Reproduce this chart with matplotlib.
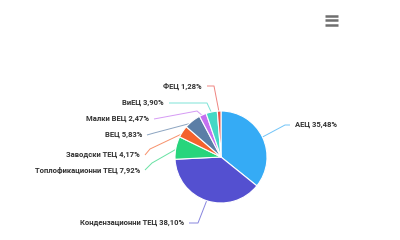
import numpy as np
import matplotlib
matplotlib.use('Agg')
import matplotlib.pyplot as plt

# data
names = ['АЕЦ', 'Кондензационни ТЕЦ', 'Топлофикационни ТЕЦ', 'Заводски ТЕЦ',
         'ВЕЦ', 'Малки ВЕЦ', 'ВиЕЦ', 'ФЕЦ']
shares = [35.48, 38.10, 7.92, 4.17, 5.83, 2.47, 3.90, 1.28]
colors = ['#35abf5', '#5450d0', '#27d57c', '#f4622c',
          '#5b7ea6', '#c470f0', '#44d8c5', '#e8504a']

# label layout in pixel coords (x, y, align) and elbow of leader line
label_pos = [(295, 125, 'left'), (184, 223, 'right'), (140, 170, 'right'),
             (140, 155, 'right'), (142, 135, 'right'), (149, 119, 'right'),
             (164, 103, 'right'), (202, 86, 'right')]
elbows = [(285, 125), (198, 223), (152, 163), (150, 149), (154, 133),
          (197, 111), (207, 103), (214, 86)]

H = 240
cx, cy, r = 221, 157, 46


def px(x, y):
    return x, H - y


fig = plt.figure(figsize=(4, 2.4), dpi=100)
ax = fig.add_axes([0, 0, 1, 1])

wedges, _ = ax.pie(shares, colors=colors, startangle=90, counterclock=False,
                   center=px(cx, cy), radius=r,
                   wedgeprops=dict(edgecolor='white', linewidth=0.8))
ax.set_xlim(0, 400)
ax.set_ylim(0, H)
ax.set_aspect('equal')
ax.axis('off')

for w, name, val, col, lp, el in zip(wedges, names, shares, colors, label_pos, elbows):
    ang = np.deg2rad((w.theta1 + w.theta2) / 2)
    ex = cx + (r - 2) * np.cos(ang)
    ey = cy - (r - 2) * np.sin(ang)
    lx, ly, ha = lp
    start = lx - 5 if ha == 'left' else lx + 5
    xs = [start, el[0], ex]
    ys = [ly, el[1], ey]
    ax.plot(xs, [H - y for y in ys], color=col, lw=0.7, alpha=0.7,
            solid_capstyle='butt', zorder=0.5)
    txt = name + ' ' + ('%.2f' % val).replace('.', ',') + '%'
    ax.text(*px(lx, ly), txt, ha=ha, va='center', fontsize=5.5,
            fontweight='bold', family='Roboto', color='#333333')

# menu icon
for yy in (15.5, 20, 24.5):
    ax.plot([325, 338], [H - yy, H - yy], color='#6f6f6f', lw=1.8,
            solid_capstyle='butt')

fig.savefig('out.png', dpi=100, facecolor='white')
